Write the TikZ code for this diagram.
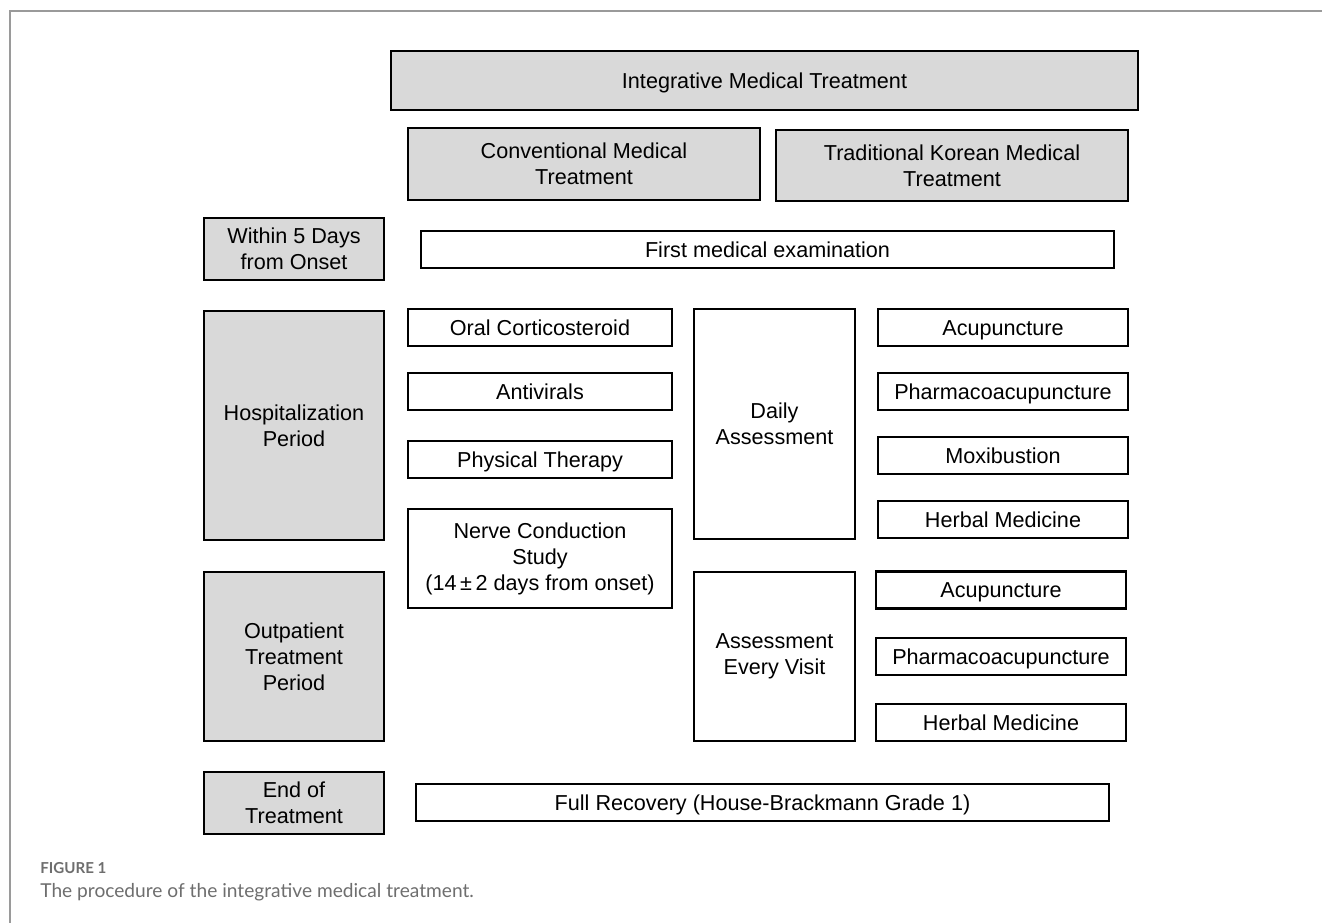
\documentclass[tikz,border=0pt]{standalone}
\usepackage{fontspec}
\setmainfont{Liberation Sans}
\newfontfamily\capfont{Lato}

\definecolor{boxgrey}{HTML}{D9D9D9}
\definecolor{capgrey}{HTML}{6E6E6E}
\definecolor{framegrey}{HTML}{9A9A9A}
\newcommand{\boxfont}{\fontsize{12.3}{14.8}\selectfont}

\begin{document}
\begin{tikzpicture}[x=0.02cm, y=-0.02cm,
	textbox/.style={draw, line width=1.4pt, align=center, font=\boxfont, inner sep=0pt},
	greybox/.style={textbox, fill=boxgrey},
	whitebox/.style={textbox, fill=white},
	oneline/.style={execute at begin node={\rule{0pt}{0.92em}}, execute at end node={\rule[-0.21em]{0pt}{0.21em}}},
	boxsize/.style 2 args={minimum width=#1*0.02cm, minimum height=#2*0.02cm}]
	\useasboundingbox (0, 0) rectangle (1322, 923);
	\draw[framegrey, line width=0.6pt] (10, 923) -- (10, 11) -- (1322, 11);
	% headings
	\node[greybox, oneline, boxsize={747}{59}, name=integ] at (764.5, 80.5) {Integrative Medical Treatment};
	\node[greybox, boxsize={352}{72}, name=conv] at (584, 164) {Conventional Medical\\Treatment};
	\node[greybox, boxsize={352}{71}, name=tkm] at (952, 165.5) {Traditional Korean Medical\\Treatment};
	% periods
	\node[greybox, boxsize={180}{62}, name=within] at (294, 249) {Within 5 Days\\from Onset};
	\node[greybox, boxsize={180}{229}, name=hosp] at (294, 425.5) {Hospitalization\\Period};
	\node[greybox, boxsize={180}{169}, name=outp] at (294, 656.5) {Outpatient\\Treatment\\Period};
	\node[greybox, boxsize={180}{62}, name=endtr] at (294, 803) {End of\\Treatment};
	% conventional column
	\node[whitebox, oneline, boxsize={693}{37}, name=first] at (767.5, 249.5) {First medical examination};
	\node[whitebox, oneline, boxsize={264}{37}, name=oral] at (540, 327.5) {Oral Corticosteroid};
	\node[whitebox, oneline, boxsize={264}{37}, name=antiv] at (540, 391.5) {Antivirals};
	\node[whitebox, oneline, boxsize={264}{37}, name=phys] at (540, 459.5) {Physical Therapy};
	\node[whitebox, boxsize={264}{99}, name=nerve] at (540, 558.5) {Nerve Conduction\\Study\\(14\,±\,2 days from onset)};
	% assessment
	\node[whitebox, boxsize={161}{230}, name=daily] at (774.5, 424) {Daily\\Assessment};
	\node[whitebox, boxsize={161}{169}, name=every] at (774.5, 656.5) {Assessment\\Every Visit};
	% korean medicine column
	\node[whitebox, oneline, boxsize={250}{37}, name=acuA] at (1003, 327.5) {Acupuncture};
	\node[whitebox, oneline, boxsize={250}{37}, name=pharmA] at (1003, 391.5) {Pharmacoacupuncture};
	\node[whitebox, oneline, boxsize={250}{37}, name=moxi] at (1003, 455.5) {Moxibustion};
	\node[whitebox, oneline, boxsize={250}{37}, name=herbA] at (1003, 519.5) {Herbal Medicine};
	\node[whitebox, oneline, boxsize={250}{37}, name=acuB] at (1001, 590) {Acupuncture};
	\node[whitebox, oneline, boxsize={250}{37}, name=pharmB] at (1001, 656.5) {Pharmacoacupuncture};
	\node[whitebox, oneline, boxsize={250}{37}, name=herbB] at (1001, 722.5) {Herbal Medicine};
	\node[whitebox, oneline, boxsize={693}{37}, name=full] at (762.5, 802.5) {Full Recovery (House-Brackmann Grade 1)};
	% caption
	\node[anchor=base west, inner sep=0pt, text=capgrey, font=\capfont\fontsize{8.6}{10}\selectfont\bfseries, name=figlabel] at (40, 873) {FIGURE 1};
	\node[anchor=base west, inner sep=0pt, text=capgrey, font=\capfont\fontsize{10.9}{12}\selectfont, name=caption] at (40, 897) {The procedure of the integrative medical treatment.};
\end{tikzpicture}
\end{document}
